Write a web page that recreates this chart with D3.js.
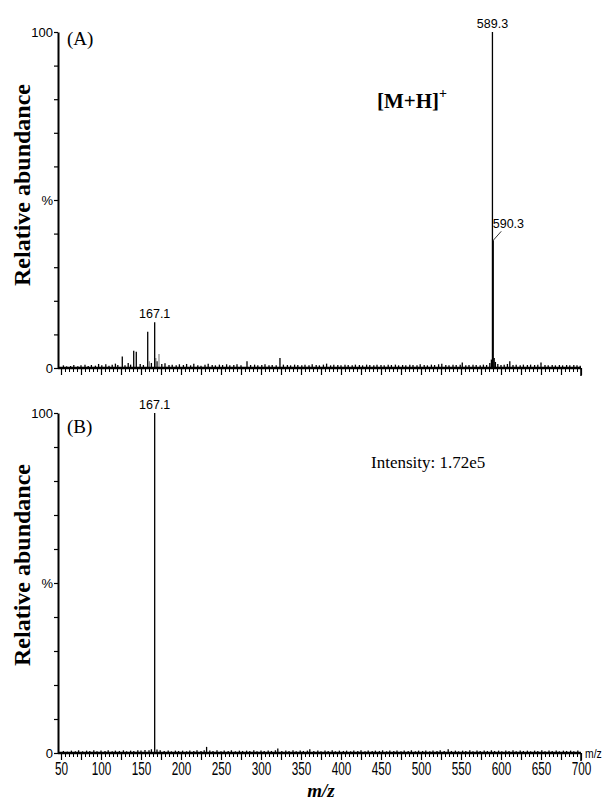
<!DOCTYPE html>
<html><head><meta charset="utf-8">
<script src="https://cdn.jsdelivr.net/npm/d3@7"></script>
<style>html,body{margin:0;padding:0;background:#fff;}</style>
</head><body>
<div id="chart"></div>
<script>
// ---------- DATA ----------
const xLabelValues = [50,100,150,200,250,300,350,400,450,500,550,600,650,700];
const yTickValues = [0,10,20,30,40,50,60,70,80,90,100];
const yTickLabels = {0:"0", 50:"%", 100:"100"};

// Panel A: main peaks [m/z, %]
const peaksA = [[126.6,3.4],[140.9,5.1],[144.1,4.8],[158.4,10.8],[167.1,13.6],[589.3,100],[590.3,38]];
const greyPeaksA = [[172.5,4.2],[160.5,2.0],[168.5,3.0]];
const labelsA = [[167.1,"167.1"],[589.3,"589.3"]];
const noiseA = [[53,0.8],[57,0.5],[62,0.6],[66,0.9],[71,0.5],[75,0.8],[80,1.0],[84,0.6],[88,0.9],[93,0.7],[97,1.2],[101,0.8],[106,1.1],[110,0.7],[114,1.0],[118,1.3],[121,0.9],[130,0.8],[134,1.5],[137,1.0],[149,1.2],[153,0.9],[163,1.5],[170,2.0],[176,1.2],[180,1.4],[185,0.9],[189,1.0],[194,0.8],[198,1.1],[203,0.9],[207,1.2],[212,0.8],[216,1.3],[221,0.8],[225,0.7],[230,1.0],[234,1.3],[239,0.9],[243,0.8],[248,1.0],[252,0.9],[257,1.1],[261,0.8],[266,0.9],[270,1.1],[275,0.8],[282.5,2.0],[287,0.9],[292,1.0],[296,0.8],[301,0.9],[305,1.1],[310,0.8],[314,0.9],[319,0.8],[323.7,3.0],[328,1.0],[333,0.9],[337,0.8],[342,1.0],[346,0.9],[351,0.8],[355,1.0],[360,0.8],[364,1.1],[369,0.9],[373,0.8],[378,1.0],[382,1.3],[387,0.8],[391,1.0],[396,0.9],[400,0.8],[405,1.0],[409,0.9],[414,0.8],[418,1.0],[423,0.9],[427,0.8],[432,1.0],[436,0.9],[441,0.8],[445,1.0],[450,0.9],[454,0.8],[459,1.0],[463,0.9],[468,1.0],[472,0.8],[477,0.9],[481,0.8],[486,1.0],[490,0.9],[495,0.8],[499,1.1],[504,0.9],[508,0.8],[513,1.0],[517,0.9],[522,1.1],[526,1.3],[531,0.9],[535,0.8],[540,1.0],[544,0.9],[549,1.0],[551.6,1.6],[556,0.8],[560,0.9],[565,1.0],[569,0.9],[574,0.8],[578,1.0],[582,0.9],[586,1.5],[588,2.5],[591.5,3.0],[593,1.8],[596,1.2],[600,0.9],[604,1.0],[608,1.2],[611,2.0],[615,0.9],[619,1.0],[624,0.8],[628,1.0],[633,0.9],[637,1.0],[642,0.9],[646,1.0],[650,1.6],[655,0.9],[659,0.8],[664,0.9],[668,0.8],[673,0.9],[677,0.8],[682,0.9],[686,0.8],[691,0.9],[695,0.8],[699,0.7]];

// Panel B
const peaksB = [[167.1,100]];
const labelsB = [[167.1,"167.1"]];
const noiseB = [[53,0.6],[58,0.4],[63,0.7],[68,0.5],[72,0.8],[77,0.5],[82,0.7],[86,0.6],[91,0.8],[95,0.5],[100,0.7],[105,0.6],[109,0.8],[114,0.5],[118,0.7],[123,0.6],[128,0.8],[132,0.5],[137,0.7],[141,0.6],[146,0.8],[150,0.7],[155,0.9],[160,0.8],[163,1.1],[170,1.0],[174,0.8],[179,0.6],[184,0.7],[188,0.5],[193,0.7],[197,0.6],[202,0.7],[207,0.5],[211,0.7],[216,0.6],[220,0.8],[225,0.6],[229,0.8],[232,1.8],[236,0.7],[240,0.6],[245,0.8],[250,0.5],[254,0.7],[259,0.6],[263,0.8],[268,0.5],[273,0.7],[277,0.6],[282,0.7],[286,0.6],[291,0.8],[295,0.5],[300,0.7],[304,0.6],[309,0.7],[313,0.6],[318,0.8],[321,1.3],[326,0.6],[331,0.7],[335,0.6],[340,0.8],[344,0.5],[349,0.7],[353,0.6],[358,0.7],[361,1.1],[366,0.6],[371,0.7],[375,0.5],[380,0.7],[384,0.6],[389,0.8],[393,0.5],[398,0.7],[403,0.6],[407,0.7],[412,0.5],[416,0.7],[421,0.6],[425,0.8],[430,0.5],[434,0.7],[439,0.6],[443,0.7],[448,0.6],[452,0.8],[457,0.5],[461,0.7],[466,0.6],[470,0.7],[475,0.5],[479,0.7],[484,0.6],[488,0.8],[493,0.5],[497,0.7],[502,0.6],[506,0.7],[511,0.5],[515,0.7],[520,0.6],[524,0.8],[529,0.6],[534,1.1],[538,0.6],[543,0.7],[547,0.5],[552,0.7],[556,0.6],[561,0.8],[565,0.5],[570,0.7],[574,0.6],[579,0.7],[583,0.6],[588,0.8],[592,0.6],[597,0.7],[601,0.5],[606,0.7],[610,0.6],[615,0.8],[619,0.5],[624,0.7],[628,0.6],[633,0.7],[637,0.5],[642,0.7],[646,0.6],[651,0.8],[655,0.5],[660,0.7],[664,0.6],[669,0.7],[673,0.5],[678,0.7],[682,0.6],[687,0.7],[691,0.5],[696,0.7]];

// ---------- CHART ----------
const W = 610, H = 807;
const svg = d3.select("#chart").append("svg").attr("width", W).attr("height", H)
  .style("background", "#fff");

const x = d3.scaleLinear().domain([50,700]).range([61,581]);
const axisLeftX = 58;

function panel(yTop, yBottom, peaks, greyPeaks, noise, labels, showXLabels) {
  const y = d3.scaleLinear().domain([0,100]).range([yBottom, yTop]);
  const g = svg.append("g");

  // noise
  g.selectAll("line.noise").data(noise).join("line")
    .attr("x1", d => x(d[0])).attr("x2", d => x(d[0]))
    .attr("y1", y(0)).attr("y2", d => y(d[1]))
    .attr("stroke", "#000").attr("stroke-width", 1.3);
  g.selectAll("line.grey").data(greyPeaks).join("line")
    .attr("x1", d => x(d[0])).attr("x2", d => x(d[0]))
    .attr("y1", y(0)).attr("y2", d => y(d[1]))
    .attr("stroke", "#888").attr("stroke-width", 1.2);
  g.selectAll("line.peak").data(peaks).join("line")
    .attr("x1", d => x(d[0])).attr("x2", d => x(d[0]))
    .attr("y1", y(0)).attr("y2", d => y(d[1]))
    .attr("stroke", "#000").attr("stroke-width", 1.3);

  // y axis
  const ya = d3.axisLeft(y).tickValues(yTickValues).tickSize(4).tickSizeOuter(0)
    .tickFormat(d => yTickLabels[d] || "");
  const yg = g.append("g").attr("transform", `translate(${axisLeftX},0)`).call(ya);
  yg.select(".domain").attr("stroke-width", 2);
  yg.selectAll(".tick line").attr("stroke-width", 1.2);
  yg.selectAll("text").attr("font-family", "'Liberation Sans', Arial, sans-serif")
    .attr("font-size", 13).attr("fill", "#000").attr("x", -5);

  // x axis: minor and major ticks
  const xg = g.append("g").attr("transform", `translate(0,${y(0)})`);
  xg.call(d3.axisBottom(x).tickValues(d3.range(50, 701, 5)).tickSize(4).tickSizeOuter(0).tickFormat(""));
  xg.select(".domain").remove();
  const xg2 = g.append("g").attr("transform", `translate(0,${y(0)})`);
  xg2.call(d3.axisBottom(x).tickValues(d3.range(50, 701, 25)).tickSize(7).tickSizeOuter(0)
    .tickFormat(d => (showXLabels && xLabelValues.includes(d)) ? d : ""));
  xg2.select(".domain").remove();
  xg.selectAll(".tick line").attr("stroke-width", 1);
  xg2.selectAll(".tick line").attr("stroke-width", 1.2);
  xg2.selectAll("text").attr("font-family", "'Liberation Sans', Arial, sans-serif")
    .attr("font-size", 19).attr("fill", "#000").attr("y", 9)
    .attr("transform", "scale(0.62,1)");
  g.append("line").attr("x1", axisLeftX).attr("x2", x(700)).attr("y1", y(0)).attr("y2", y(0))
    .attr("stroke", "#000").attr("stroke-width", 2.5);
  g.append("line").attr("x1", x(700)).attr("x2", x(700)).attr("y1", y(0)).attr("y2", y(0) + 8)
    .attr("stroke", "#000").attr("stroke-width", 1.5);

  // peak labels
  const hmap = new Map(peaks.map(d => [d[0], d[1]]));
  g.selectAll("text.plabel").data(labels).join("text")
    .attr("x", d => x(d[0])).attr("y", d => y(hmap.get(d[0])) - 4)
    .attr("text-anchor", "middle")
    .attr("font-family", "'Liberation Sans', Arial, sans-serif").attr("font-size", 12.5)
    .text(d => d[1]);
  return {g, y};
}

const A = panel(32, 368, peaksA, greyPeaksA, noiseA, labelsA, false);
const B = panel(413, 753, peaksB, [], noiseB, labelsB, true);

// 590.3 label with leader line
const p590 = peaksA.find(d => d[0] === 590.3);
A.g.append("line")
  .attr("x1", x(p590[0])).attr("y1", A.y(p590[1]))
  .attr("x2", x(p590[0]) + 8).attr("y2", A.y(p590[1]) - 9)
  .attr("stroke", "#000").attr("stroke-width", 0.8);
A.g.append("text").attr("x", x(p590[0]) - 0.5).attr("y", A.y(p590[1]) - 12)
  .attr("font-family", "'Liberation Sans', Arial, sans-serif").attr("font-size", 12.5)
  .text("590.3");

// panel annotations
const serif = "'Liberation Serif', 'Times New Roman', serif";
svg.append("text").attr("x", 67).attr("y", 45).attr("font-family", serif).attr("font-size", 19).text("(A)");
svg.append("text").attr("x", 67).attr("y", 433).attr("font-family", serif).attr("font-size", 19).text("(B)");

const mh = svg.append("text").attr("x", 377).attr("y", 108).attr("font-family", serif)
  .attr("font-size", 21).attr("font-weight", "bold");
mh.append("tspan").text("[M+H]");
mh.append("tspan").attr("font-size", 14).attr("dy", -10).text("+");

svg.append("text").attr("x", 371).attr("y", 468).attr("font-family", serif).attr("font-size", 17)
  .text("Intensity: 1.72e5");

// y titles
[[185],[565]].forEach(([cy]) => {
  svg.append("text").attr("transform", `translate(30,${cy}) rotate(-90)`)
    .attr("text-anchor", "middle").attr("font-family", serif).attr("font-weight", "bold")
    .attr("font-size", 24).text("Relative abundance");
});

// x titles
svg.append("text").attr("x", 585).attr("y", 758).attr("font-family", "'Liberation Sans', Arial, sans-serif")
  .attr("font-size", 13).attr("transform", "translate(585,0) scale(0.8,1) translate(-585,0)").text("m/z");
svg.append("text").attr("x", 321).attr("y", 797).attr("text-anchor", "middle")
  .attr("font-family", serif).attr("font-size", 19).attr("font-weight", "bold").attr("font-style", "italic")
  .text("m/z");
</script>
</body></html>
